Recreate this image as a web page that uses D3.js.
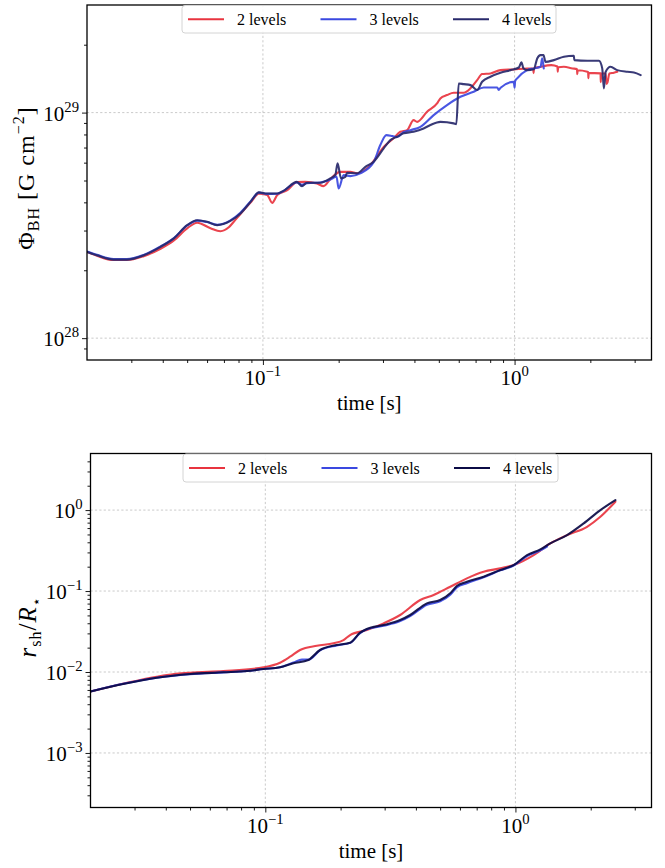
<!DOCTYPE html>
<html><head><meta charset="utf-8">
<script src="https://cdn.jsdelivr.net/npm/d3@7"></script>
<style>
body{margin:0;background:#fff}
svg{display:block}
text{font-family:"Liberation Serif","Times New Roman",serif;fill:#000}
</style>
</head><body>
<svg id="c" width="665" height="868"></svg>
<script>
// ---------- DATA ----------
const seriesLabels = ["2 levels", "3 levels", "4 levels"];
const colorsTop = ["#e8343f", "#3a48e0", "#28296b"];
const colorsBottom = ["#e8343f", "#3a48e0", "#0b0b45"];

// Top panel: time [s], Phi_BH in units of 1e28 G cm^-2
const phi2 = [[0.0200,2.41],[0.0219,2.32],[0.0255,2.22],[0.0288,2.22],[0.0336,2.31],[0.0392,2.49],[0.0443,2.71],[0.0500,3.07],[0.0548,3.25],[0.0619,3.07],[0.0678,2.98],[0.0732,3.10],[0.0766,3.28],[0.0814,3.55],[0.0893,3.99],[0.0964,4.37],[0.1040,4.31],[0.1089,3.98],[0.1140,4.31],[0.1250,4.53],[0.1365,4.92],[0.1473,4.93],[0.1640,4.85],[0.1742,4.72],[0.1853,5.07],[0.2029,5.46],[0.2225,5.46],[0.2366,5.38],[0.2672,5.85],[0.302,7.05],[0.3307,7.69],[0.3515,8.22],[0.3739,8.36],[0.397,9.26],[0.410,9.10],[0.449,10.08],[0.492,10.98],[0.507,11.56],[0.539,11.96],[0.573,12.24],[0.628,12.24],[0.668,12.81],[0.710,13.94],[0.743,14.82],[0.802,14.92],[0.879,15.43],[0.993,15.54],[1.122,15.70],[1.185,15.70],[1.19,14.97],[1.195,15.70],[1.268,15.96],[1.40,16.24],[1.48,16.0],[1.485,15.2],[1.49,15.9],[1.57,15.96],[1.70,15.70],[1.77,15.6],[1.775,14.8],[1.78,15.4],[1.945,15.17],[1.96,15.10],[1.965,14.2],[1.97,15.0],[2.196,14.92],[2.20,13.65],[2.21,14.9],[2.30,14.9],[2.32,13.4],[2.34,13.6],[2.38,14.9],[2.481,15.02],[2.559,15.17]];
const phi3 = [[0.0200,2.42],[0.0219,2.34],[0.0255,2.24],[0.0288,2.24],[0.0336,2.34],[0.0392,2.55],[0.0443,2.78],[0.0500,3.16],[0.0548,3.32],[0.0600,3.27],[0.0658,3.18],[0.0743,3.33],[0.0814,3.60],[0.0893,4.04],[0.0964,4.42],[0.1040,4.36],[0.1140,4.37],[0.1208,4.50],[0.1365,4.90],[0.1429,4.78],[0.1496,4.87],[0.169,4.90],[0.1853,5.05],[0.196,5.2],[0.2,4.61],[0.2094,5.28],[0.2225,5.23],[0.2437,5.38],[0.2754,6.03],[0.2928,7.18],[0.3094,7.95],[0.3268,7.87],[0.342,7.79],[0.3614,8.19],[0.3855,8.36],[0.4224,8.65],[0.477,9.75],[0.539,10.80],[0.609,11.75],[0.688,12.37],[0.754,12.93],[0.853,12.93],[0.865,12.6],[0.88,12.9],[0.993,13.69],[1.0,12.9],[1.005,13.8],[1.024,14.18],[1.122,15.43],[1.192,15.70],[1.268,15.96],[1.288,17.39],[1.306,15.70]];
const phi4 = [[0.0200,2.41],[0.0219,2.33],[0.0255,2.23],[0.0288,2.23],[0.0336,2.33],[0.0392,2.54],[0.0443,2.77],[0.0500,3.17],[0.0548,3.33],[0.0600,3.28],[0.0658,3.17],[0.0743,3.31],[0.0814,3.57],[0.0893,4.02],[0.0964,4.43],[0.1040,4.38],[0.1140,4.38],[0.1208,4.50],[0.1365,4.93],[0.1429,4.72],[0.1496,4.89],[0.169,4.89],[0.1853,5.11],[0.194,5.29],[0.198,5.96],[0.2044,5.11],[0.2125,5.19],[0.216,5.41],[0.2366,5.38],[0.2553,5.75],[0.2754,6.06],[0.302,6.94],[0.321,7.55],[0.341,7.82],[0.362,8.09],[0.397,8.23],[0.435,8.51],[0.463,8.81],[0.507,9.10],[0.573,8.96],[0.587,8.89],[0.600,13.47],[0.628,13.37],[0.668,13.24],[0.710,12.59],[0.743,13.70],[0.802,14.42],[0.879,15.01],[0.964,15.43],[1.040,15.85],[1.065,16.73],[1.084,15.74],[1.122,15.43],[1.192,15.56],[1.230,17.38],[1.268,17.99],[1.303,17.99],[1.327,16.79],[1.432,17.09],[1.570,17.67],[1.721,17.86],[1.727,17.09],[1.945,16.98],[2.164,16.98],[2.230,15.71],[2.264,12.80],[2.30,15.13],[2.406,15.96],[2.558,15.43],[2.805,15.17],[2.98,15.07],[3.17,14.66]];

// Bottom panel: time [s], r_sh / R_star
const rsh2 = [[0.02,0.00575],[0.0368,0.00875],[0.0404,0.00918],[0.05,0.0098],[0.068,0.01028],[0.0983,0.01143],[0.1145,0.01303],[0.1257,0.01545],[0.1377,0.0187],[0.1607,0.0211],[0.1873,0.0226],[0.2054,0.0248],[0.2183,0.0286],[0.2546,0.0330],[0.2971,0.0399],[0.346,0.0506],[0.4163,0.0774],[0.471,0.0893],[0.5489,0.1130],[0.6397,0.1435],[0.7462,0.1731],[0.87,0.1906],[0.9836,0.2094],[1.183,0.278],[1.379,0.388],[1.609,0.491],[1.934,0.622],[2.186,0.827],[2.51,1.266]];
const rsh3 = [[0.02,0.00575],[0.027,0.00715],[0.0368,0.0085],[0.05,0.0094],[0.068,0.0099],[0.0844,0.01028],[0.0983,0.01089],[0.1145,0.01143],[0.1295,0.0131],[0.14,0.0142],[0.1486,0.0142],[0.1654,0.0185],[0.193,0.0213],[0.2183,0.0229],[0.2393,0.0303],[0.2546,0.0336],[0.2971,0.0372],[0.346,0.0425],[0.3795,0.049],[0.4426,0.0675],[0.5,0.0745],[0.5489,0.09],[0.583,0.111],[0.6397,0.125],[0.7462,0.148],[0.87,0.18],[0.9836,0.207],[1.113,0.27],[1.258,0.318],[1.338,0.355]];
const rsh4 = [[0.02,0.00575],[0.027,0.00711],[0.0368,0.00851],[0.05,0.00945],[0.068,0.00991],[0.0844,0.01028],[0.0983,0.01089],[0.1145,0.01143],[0.1295,0.0128],[0.1486,0.01406],[0.1654,0.0187],[0.193,0.02154],[0.2183,0.0230],[0.2393,0.0306],[0.2546,0.0340],[0.2971,0.0380],[0.346,0.0438],[0.3795,0.0506],[0.4426,0.0705],[0.5,0.0774],[0.5489,0.0937],[0.583,0.1153],[0.6397,0.1303],[0.7462,0.1503],[0.87,0.1817],[0.9836,0.2094],[1.113,0.278],[1.258,0.3273],[1.379,0.388],[1.609,0.491],[1.875,0.685],[2.186,1.0],[2.51,1.329]];

const xTickExps = [-1, 0];
const topYTickExps = [28, 29];
const bottomYTickExps = [-3, -2, -1, 0];
const phiUnit = 1e28;

// ---------- DRAWING ----------
const svg = d3.select("#c");
const fmtExp = e => (e < 0 ? "\u2212" + Math.abs(e) : String(e));

function minorTicks(domain) {
  const out = [];
  const k0 = Math.floor(Math.log10(domain[0])), k1 = Math.ceil(Math.log10(domain[1]));
  for (let k = k0; k <= k1; k++) for (let m = 2; m <= 9; m++) {
    const v = m * Math.pow(10, k);
    if (v >= domain[0] * 1.0001 && v <= domain[1] * 0.9999) out.push(v);
  }
  return out;
}

function panel(cfg) {
  const g = svg.append("g");
  const x = d3.scaleLog().domain(cfg.xDomain).range([cfg.left, cfg.right]);
  const y = d3.scaleLog().domain(cfg.yDomain).range([cfg.bottom, cfg.top]);
  const xMaj = xTickExps.map(e => Math.pow(10, e));
  const yMaj = cfg.yExps.map(e => Math.pow(10, e));

  const grid = g.append("g").attr("stroke", "#bdbdbd").attr("stroke-width", 0.8).attr("stroke-dasharray", "2.2,2.2");
  xMaj.forEach(v => grid.append("line").attr("x1", x(v)).attr("x2", x(v)).attr("y1", cfg.top).attr("y2", cfg.bottom));
  yMaj.forEach(v => grid.append("line").attr("x1", cfg.left).attr("x2", cfg.right).attr("y1", y(v)).attr("y2", y(v)));

  const cid = "clip" + cfg.id;
  svg.append("clipPath").attr("id", cid).append("rect")
    .attr("x", cfg.left).attr("y", cfg.top).attr("width", cfg.right - cfg.left).attr("height", cfg.bottom - cfg.top);

  const line = d3.line().x(d => x(d[0])).y(d => y(d[1] * cfg.scale)).curve(cfg.curve);
  const lines = g.append("g").attr("clip-path", `url(#${cid})`);
  cfg.series.forEach((s, i) => {
    lines.append("path").datum(s).attr("d", line).attr("fill", "none")
      .attr("stroke", cfg.colors[i]).attr("stroke-width", 2.1)
      .attr("stroke-linejoin", "round").attr("stroke-linecap", "round")
      .attr("opacity", 0.92);
  });

  const xa = g.append("g").attr("transform", `translate(0,${cfg.bottom})`);
  xa.call(d3.axisBottom(x).tickValues(xMaj).tickSize(5).tickFormat(""));
  const xam = g.append("g").attr("transform", `translate(0,${cfg.bottom})`);
  xam.call(d3.axisBottom(x).tickValues(minorTicks(cfg.xDomain)).tickSize(3).tickFormat(""));
  const ya = g.append("g").attr("transform", `translate(${cfg.left},0)`);
  ya.call(d3.axisLeft(y).tickValues(yMaj).tickSize(5).tickFormat(""));
  const yam = g.append("g").attr("transform", `translate(${cfg.left},0)`);
  yam.call(d3.axisLeft(y).tickValues(minorTicks(cfg.yDomain)).tickSize(3).tickFormat(""));
  [xa, xam, ya, yam].forEach(a => { a.select(".domain").remove(); a.selectAll("line").attr("stroke", "#000").attr("stroke-width", 0.9); });

  xTickExps.forEach(e => {
    const t = g.append("text").attr("x", x(Math.pow(10, e))).attr("y", cfg.bottom + 25)
      .attr("text-anchor", "middle").attr("font-size", cfg.xTickSize);
    t.append("tspan").text("10");
    t.append("tspan").attr("dy", -cfg.xTickSize * 0.42).attr("font-size", cfg.xTickSize * 0.7).text(fmtExp(e));
  });
  cfg.yExps.forEach(e => {
    const t = g.append("text").attr("x", cfg.left - 8).attr("y", y(Math.pow(10, e)) + cfg.yTickSize * 0.38)
      .attr("text-anchor", "end").attr("font-size", cfg.yTickSize);
    t.append("tspan").text("10");
    t.append("tspan").attr("dy", -cfg.yTickSize * 0.42).attr("font-size", cfg.yTickSize * 0.7).text(fmtExp(e));
  });

  g.append("rect").attr("x", cfg.left).attr("y", cfg.top).attr("width", cfg.right - cfg.left)
    .attr("height", cfg.bottom - cfg.top).attr("fill", "none").attr("stroke", "#000").attr("stroke-width", 1.3);

  g.append("text").attr("x", (cfg.left + cfg.right) / 2).attr("y", cfg.bottom + 50)
    .attr("text-anchor", "middle").attr("font-size", 21).text("time [s]");

  const L = cfg.legend;
  const lg = g.append("g");
  lg.append("rect").attr("x", L.x).attr("y", L.y).attr("width", L.w).attr("height", L.h).attr("rx", 3)
    .attr("fill", "#fff").attr("fill-opacity", 0.85).attr("stroke", "#d4d4d4").attr("stroke-width", 1);
  seriesLabels.forEach((lab, i) => {
    const lx = L.x + 6 + i * 132.5;
    lg.append("line").attr("x1", lx).attr("x2", lx + 36).attr("y1", L.y + L.h / 2).attr("y2", L.y + L.h / 2)
      .attr("stroke", cfg.colors[i]).attr("stroke-width", 2.1);
    lg.append("text").attr("x", lx + 49).attr("y", L.y + L.h / 2 + 5.5).attr("font-size", 16).text(lab);
  });
  return g;
}

const topPanel = panel({
  id: "top", left: 87, right: 651.5, top: 5, bottom: 360,
  xDomain: [0.02, 3.5], yDomain: [8e27, 3e29], yExps: topYTickExps, scale: phiUnit,
  series: [phi2, phi3, phi4], colors: colorsTop, curve: d3.curveMonotoneX,
  xTickSize: 21, yTickSize: 21,
  legend: { x: 182, y: 5.5, w: 374, h: 27.5 }
});
const bottomPanel = panel({
  id: "bot", left: 90.5, right: 651.5, top: 453.5, bottom: 807.5,
  xDomain: [0.02, 3.5], yDomain: [2.12e-4, 5], yExps: bottomYTickExps, scale: 1,
  series: [rsh2, rsh3, rsh4], colors: colorsBottom, curve: d3.curveMonotoneX,
  xTickSize: 21, yTickSize: 21,
  legend: { x: 183, y: 454, w: 375, h: 28 }
});

const yl1 = svg.append("text").attr("transform", "translate(34,178) rotate(-90)")
  .attr("text-anchor", "middle").attr("font-size", 24).attr("letter-spacing", 1);
yl1.append("tspan").text("\u03A6");
yl1.append("tspan").attr("dy", 5).attr("font-size", 16).text("BH");
yl1.append("tspan").attr("dy", -5).text(" [G cm");
yl1.append("tspan").attr("dy", -10).attr("font-size", 16).text("\u22122");
yl1.append("tspan").attr("dy", 10).text("]");

const yl2 = svg.append("text").attr("transform", "translate(36,627) rotate(-90)")
  .attr("text-anchor", "middle").attr("font-size", 25).attr("letter-spacing", 1);
yl2.append("tspan").attr("font-style", "italic").text("r");
yl2.append("tspan").attr("dy", 5).attr("font-size", 16).text("sh");
yl2.append("tspan").attr("dy", -5).text("/");
yl2.append("tspan").attr("font-style", "italic").text("R");
yl2.append("tspan").attr("dy", 5).attr("font-size", 14).attr("font-family", "DejaVu Sans").text("\u22C6");
</script>
</body></html>
